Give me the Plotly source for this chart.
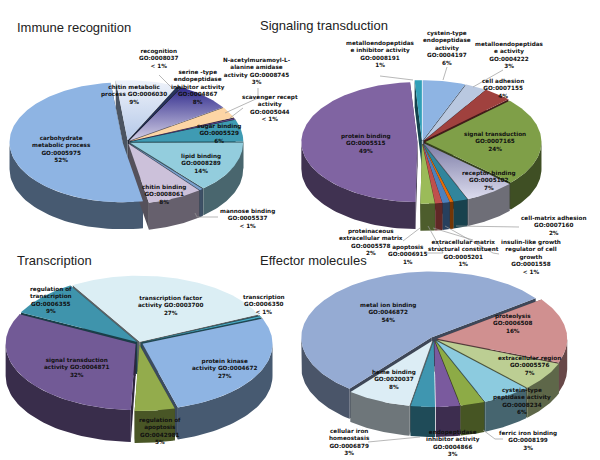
import numpy as np
import plotly.graph_objects as go

# values, "< 1%" taken as 0.5
immune_names = ["chitin metabolic<br>process GO:0006030", "recognition<br>GO:0008037", "serine -type<br>endopeptidase<br>inhibitor activity<br>GO:0004867",
                "N-acetylmuramoyl-L-<br>alanine amidase<br>activity GO:0008745", "scavenger recept<br>activity<br>GO:0005044", "sugar binding<br>GO:0005529",
                "lipid binding<br>GO:0008289", "mannose binding<br>GO:0005537", "chitin binding<br>GO:0008061", "carbohydrate<br>metabolic process<br>GO:0005975"]
immune_pct = ["9%", "< 1%", "8%", "3%", "< 1%", "6%", "14%", "< 1%", "8%", "52%"]
immune_values = [9, 0.5, 8, 3, 0.5, 6, 14, 0.5, 8, 52]

signal_names = ["cystein-type<br>endopeptidase<br>activity<br>GO:0004197", "metalloendopeptidas<br>e activity<br>GO:0004222", "cell adhesion<br>GO:0007155",
                "signal transduction<br>GO:0007165", "receptor binding<br>GO:0005102", "cell-matrix adhesion<br>GO:0007160",
                "insulin-like growth<br>regulator of cell<br>growth<br>GO:0001558", "extracellular matrix<br>structural constituent<br>GO:0005201",
                "apoptosis<br>GO:0006915", "proteinaceous<br>extracellular matrix<br>GO:0005578", "protein binding<br>GO:0005515",
                "metalloendopeptidas<br>e inhibitor activity<br>GO:0008191"]
signal_pct = ["6%", "3%", "4%", "24%", "7%", "2%", "< 1%", "1%", "1%", "2%", "49%", "1%"]
signal_values = [6, 3, 4, 24, 7, 2, 0.5, 1, 1, 2, 49, 1]

transcr_names = ["transcription factor<br>activity GO:0003700", "transcription<br>GO:0006350", "protein kinase<br>activity GO:0004672",
                 "regulation of<br>apoptosis<br>GO:0042981", "signal transduction<br>activity GO:0004871", "regulation of<br>transcription<br>GO:0006355"]
transcr_pct = ["27%", "< 1%", "27%", "5%", "32%", "9%"]
transcr_values = [27, 0.5, 27, 5, 32, 9]

effector_names = ["metal ion binding<br>GO:0046872", "proteolysis<br>GO:0006508", "extracellular region<br>GO:0005576",
                  "cystein-type<br>peptidase activity<br>GO:0008234", "ferric iron binding<br>GO:0008199", "endopeptidase<br>inhibitor activity<br>GO:0004866",
                  "cellular iron<br>homeostasis<br>GO:0006879", "heme binding<br>GO:0020037"]
effector_pct = ["54%", "16%", "7%", "6%", "3%", "3%", "3%", "8%"]
effector_values = [54, 16, 7, 6, 3, 3, 3, 8]

# slice colours; a pair is a top-to-bottom gradient
immune_colors = [("#eef2fa", "#b4c8e8"), "#27345f", ("#2f2a8c", "#d4d0e6"), "#fcd5a5", "#5e4a8a", "#3f9bb3", "#93cddd", "#7ba0cd", "#ccc1da", "#8eb4e3"]
signal_colors = ["#8eb4e3", "#b9c8e0", "#a0413e", "#7f9f48", ("#7c7ca6", "#dcdcee"), "#31859c", "#e46c0a", "#4f81bd", "#c0504d", "#9bbb59", "#8064a2", "#31a0b8"]
transcr_colors = ["#dbeef4", "#4bacc6", "#8eb4e3", "#93ac4c", "#725a96", "#3f94ac"]
effector_colors = ["#95abd3", "#d09090", "#bcce93", "#8ccbdf", "#8dab46", "#7a5a9e", "#3f96b0", "#dcedf5"]

# label positions and leader bends, pixels
immune_label_xy = [(134, 94), (159, 58), (198, 87), (257, 71), (270, 108), (219, 133), (201, 163), (247, 218), (164, 194), (61, 149)]
signal_label_xy = [(447, 48), (509, 55), (503, 88), (495, 141), (489, 180), (553, 225), (531, 257), (463, 253), (408, 254), (371, 242), (366, 143), (380, 54)]
transcr_label_xy = [(170, 305), (264, 304), (224, 368), (160, 431), (76, 367), (51, 300)]
effector_label_xy = [(388, 312), (513, 323), (529, 365), (522, 401), (528, 440), (453, 443), (349, 442), (394, 379)]

pies = [
    dict(title="Immune recognition", title_xy=(15, 27), names=immune_names, pct=immune_pct, values=immune_values, colors=immune_colors,
         label_xy=immune_label_xy, cx=127, cy=142, rx=113, ry=60, depth=27, start=-6,
         explode=[0.03, 0.03, 0.03, 0.03, 0.03, 0.03, 0.03, 0.03, 0.03, 0.04],
         leaders={1: [(173, 89), (159, 75)], 3: [(225, 113), (258, 98), (258, 88)], 4: [(230, 118), (243, 108)], 7: [(195, 213), (197, 217), (218, 217)]}),
    dict(title="Signaling transduction", title_xy=(258, 25), names=signal_names, pct=signal_pct, values=signal_values, colors=signal_colors,
         label_xy=signal_label_xy, cx=422, cy=142, rx=116, ry=60, depth=27, start=0,
         explode=[0.03] * 10 + [0.04, 0.03],
         leaders={0: [(443, 80), (447, 67)], 1: [(473, 87), (503, 70)], 5: [(456, 226), (519, 227)], 6: [(445, 226), (493, 253), (499, 254)],
                  7: [(433, 228), (473, 240)], 8: [(428, 226), (443, 253), (427, 253)], 9: [(420, 228), (403, 241)], 11: [(413, 80), (380, 76)]}),
    dict(title="Transcription", title_xy=(15, 260), names=transcr_names, pct=transcr_pct, values=transcr_values, colors=transcr_colors,
         label_xy=transcr_label_xy, cx=139, cy=343, rx=130, ry=66, depth=32, start=-31,
         explode=[0.02, 0.02, 0.03, 0.03, 0.03, 0.02],
         leaders={}),
    dict(title="Effector molecules", title_xy=(258, 260), names=effector_names, pct=effector_pct, values=effector_values, colors=effector_colors,
         label_xy=effector_label_xy, cx=434, cy=339, rx=130, ry=66, depth=30, start=219,
         explode=[0.03, 0.025, 0.03, 0.03, 0.03, 0.03, 0.03, 0.03],
         leaders={4: [(483, 430), (495, 439), (503, 439)], 6: [(420, 437), (368, 442)]}),
]


def darken(c, f=0.5):
    c = c.lstrip("#")
    r, g, b = int(c[:2], 16), int(c[2:4], 16), int(c[4:], 16)
    return "rgb(%d,%d,%d)" % (r * f, g * f, b * f)


def poly(fig, xs, ys, color, grad=None):
    kw = dict(fillcolor=color) if grad is None else dict(
        fillgradient=dict(type="vertical", colorscale=[[0, grad[1]], [1, grad[0]]]))
    fig.add_trace(go.Scatter(x=list(xs), y=list(ys), mode="lines", fill="toself", line=dict(width=0, color=color),
                             hoverinfo="skip", showlegend=False, **kw))


fig = go.Figure()
annots = []

for p in pies:
    vals = np.array(p["values"], dtype=float)
    spans = 360 * vals / vals.sum()
    starts = p["start"] + np.concatenate([[0], np.cumsum(spans)[:-1]])
    mids = starts + spans / 2
    cx, cy, rx, ry, depth = p["cx"], p["cy"], p["rx"], p["ry"], p["depth"]

    def pos(t, ox, oy):
        r = np.radians(t)
        return ox + rx * np.sin(r), oy - ry * np.cos(r)

    origins = []
    for m, e in zip(mids, p["explode"]):
        r = np.radians(m)
        origins.append((cx + e * rx * np.sin(r), cy - e * ry * np.cos(r)))

    # walls first, back slices before the front ones
    order = sorted(range(len(vals)), key=lambda i: -np.cos(np.radians(mids[i])))
    for i in order:
        col = p["colors"][i]
        base = col[1] if isinstance(col, tuple) else col
        wall = darken(base)
        ox, oy = origins[i]
        for t in (starts[i], starts[i] + spans[i]):
            ex, ey = pos(t, ox, oy)
            poly(fig, [ox, ex, ex, ox, ox], [oy, ey, ey + depth, oy + depth, oy], darken(base, 0.42))
        lo, hi = starts[i] % 360, starts[i] % 360 + spans[i]
        for shift in (0, 360):
            a, b = max(lo, 90 + shift), min(hi, 270 + shift)
            if b > a:
                tt = np.linspace(a, b, 40)
                ax_, ay_ = pos(tt, ox, oy)
                poly(fig, np.concatenate([ax_, ax_[::-1]]), np.concatenate([ay_, ay_[::-1] + depth]), wall)

    # then the tops
    for i in order:
        col = p["colors"][i]
        ox, oy = origins[i]
        tt = np.linspace(starts[i], starts[i] + spans[i], max(int(spans[i]), 4))
        ax_, ay_ = pos(tt, ox, oy)
        xs = np.concatenate([[ox], ax_, [ox]])
        ys = np.concatenate([[oy], ay_, [oy]])
        if isinstance(col, tuple):
            poly(fig, xs, ys, col[1], grad=col)
        else:
            poly(fig, xs, ys, col)

    # leader lines
    for i, pts in p["leaders"].items():
        fig.add_trace(go.Scatter(x=[q[0] for q in pts], y=[q[1] for q in pts], mode="lines",
                                 line=dict(width=0.7, color="#9a9a9a"), hoverinfo="skip", showlegend=False))

    annots.append(dict(x=p["title_xy"][0], y=p["title_xy"][1], text=p["title"], xanchor="left", yanchor="middle", showarrow=False,
                       font=dict(family="Liberation Sans", size=13, color="#222222")))
    for name, pct, (lx, ly) in zip(p["names"], p["pct"], p["label_xy"]):
        annots.append(dict(x=lx, y=ly, text="<b>%s<br>%s</b>" % (name, pct), align="center", xanchor="center", yanchor="middle",
                           showarrow=False, font=dict(family="DejaVu Sans", size=5.7, color="#111111")))

fig.update_layout(width=600, height=460, margin=dict(l=0, r=0, t=0, b=0), paper_bgcolor="white", plot_bgcolor="white",
                  showlegend=False, annotations=annots)
fig.update_xaxes(range=[0, 600], visible=False, fixedrange=True)
fig.update_yaxes(range=[460, 0], visible=False, fixedrange=True)
fig.write_html("out.html", post_script="document.body.style.margin='0';", config=dict(displayModeBar=False))
